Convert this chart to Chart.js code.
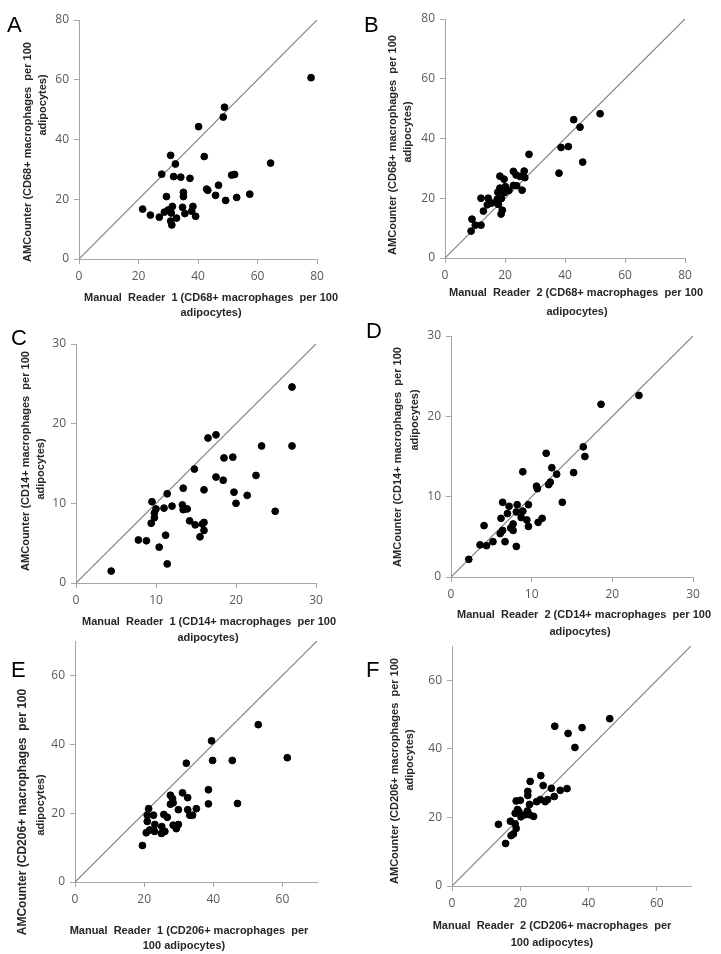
<!DOCTYPE html>
<html>
<head>
<meta charset="utf-8">
<script src="https://cdn.jsdelivr.net/npm/chart.js@4.4.1/dist/chart.umd.min.js"></script>
<style>
  html, body { margin: 0; padding: 0; background: #fff; }
  #page { position: relative; width: 721px; height: 954px; overflow: hidden; }
  #page canvas { position: absolute; left: 0; top: 0; }
</style>
</head>
<body>
<div id="page">
  <canvas id="chartA" width="721" height="954"></canvas>
  <canvas id="chartB" width="721" height="954"></canvas>
  <canvas id="chartC" width="721" height="954"></canvas>
  <canvas id="chartD" width="721" height="954"></canvas>
  <canvas id="chartE" width="721" height="954"></canvas>
  <canvas id="chartF" width="721" height="954"></canvas>
</div>
<script>
// CD68+ : reader 1 vs AMCounter
const cd68Reader1 = [78, 48.9, 48.5, 40.2, 30.8, 42.1, 32.4, 64.4, 27.8, 31.8, 34.2, 37.3, 51.3, 52.3, 46.9, 42.9, 43.3, 45.9, 49.3, 53, 57.4, 35.1, 35.1, 29.4, 21.4, 24, 27, 28.7, 30, 31.4, 31, 30.8, 31.2, 32.8, 34.8, 35.6, 38.3, 37.9, 39.2]
const cd68Counter1 = [60.7, 50.8, 47.5, 44.3, 34.7, 34.3, 31.8, 32.1, 28.4, 27.6, 27.4, 27, 28.1, 28.3, 24.7, 23.4, 23, 21.3, 19.6, 20.6, 21.7, 22.3, 20.9, 20.9, 16.7, 14.7, 14, 15.7, 16.4, 17.6, 15.4, 12.7, 11.4, 13.7, 17.3, 15.2, 17.6, 16, 14.3]

// CD68+ : reader 2 vs AMCounter
const cd68Reader2 = [51.7, 42.9, 45, 38.7, 41.1, 45.9, 38, 28, 22.8, 26.4, 23.7, 25, 25.9, 26.6, 18.3, 19.7, 22.8, 23.9, 25.7, 18.3, 20.1, 17.6, 19.8, 21.3, 17.4, 18.8, 17.8, 18.7, 19.1, 15.6, 14.1, 14.4, 12, 12.8, 12, 10.1, 9, 8.7]
const cd68Counter2 = [48.3, 46.3, 43.8, 37, 37.3, 32.1, 28.4, 34.7, 29, 29.1, 27.8, 27.3, 27.5, 26.9, 27.4, 26.4, 24.3, 24.2, 22.7, 23.4, 23.9, 22, 21.9, 22.6, 19.7, 19.9, 17.9, 14.7, 16, 18.4, 17.8, 20, 20, 15.7, 11, 11, 13, 9]

// CD14+ : reader 1 vs AMCounter
const cd14Reader1 = [27, 27, 23.2, 16.5, 17.5, 18.5, 19.6, 14.8, 17.5, 18.4, 22.5, 13.4, 16, 11.4, 19.75, 21.4, 20, 24.9, 9.5, 10, 9.8, 9.8, 9.4, 11, 12, 13.3, 13.4, 13.9, 14.2, 14.9, 15.8, 16, 16, 15.5, 11.2, 7.8, 8.8, 10.4, 11.4, 4.4]
const cd14Counter1 = [24.6, 17.2, 17.2, 18.2, 18.6, 15.7, 15.8, 14.3, 13.3, 12.9, 13.5, 11.9, 11.7, 11.2, 11.4, 11, 10, 9, 10.2, 9.3, 8.8, 8.2, 7.5, 9.4, 9.65, 9.8, 9.2, 9.3, 7.8, 7.3, 7.4, 7.6, 6.6, 5.8, 6, 5.4, 5.3, 4.5, 2.4, 1.5]

// CD14+ : reader 2 vs AMCounter
const cd14Reader2 = [23.3, 18.6, 16.4, 16.6, 11.8, 15.2, 12.5, 13.1, 12.3, 12.1, 10.6, 10.7, 8.9, 13.8, 6.4, 7.2, 8.2, 9.6, 7, 8.1, 8.9, 8.7, 9.4, 9.6, 10.8, 11.3, 6.2, 7.7, 7.4, 7.7, 6.4, 6.1, 4.1, 5.2, 6.7, 3.6, 4.4, 8.1, 2.2]
const cd14Counter2 = [22.6, 21.5, 16.2, 15, 15.4, 13, 13.6, 12.8, 11.8, 11.5, 11.3, 11, 13.1, 9.3, 9.3, 8.8, 9, 9, 7.9, 8.1, 8.2, 7.4, 7.1, 6.3, 6.8, 7.3, 7.3, 6.6, 6.1, 5.8, 5.8, 5.4, 6.4, 4.4, 4.4, 4, 3.9, 3.8, 2.2]

// CD206+ : reader 1 vs AMCounter
const cd206Reader1 = [53, 61.4, 39.5, 39.8, 45.5, 32.2, 38.6, 38.6, 47, 31.1, 27.6, 32.6, 28.2, 28.4, 27.6, 29.9, 32.6, 35.1, 33.2, 34, 25.7, 26.7, 21.3, 20.9, 22.7, 20.9, 23.1, 25.1, 28.4, 29.9, 29.3, 26, 25, 21.6, 23, 20.6, 19.5]
const cd206Counter1 = [45.7, 36.1, 41, 35.3, 35.3, 34.5, 26.8, 22.7, 22.8, 25.9, 25.2, 24.5, 24.2, 23, 22.6, 21, 21, 21.3, 19.4, 19.4, 19.6, 18.8, 21.3, 19.4, 19.4, 17.6, 16.7, 16.1, 16.5, 16.7, 15.5, 14.7, 14.1, 15.1, 14.7, 14.3, 10.6]

// CD206+ : reader 2 vs AMCounter
const cd206Reader2 = [46.2, 30.1, 34, 38.1, 36, 26, 22.9, 26.7, 29.1, 33.7, 31.7, 29.95, 22.2, 22.2, 25.9, 24.8, 28, 27.3, 22.7, 18.8, 20, 19.2, 22.1, 18.5, 20.2, 21.5, 22.7, 23.9, 19.6, 13.6, 17.1, 18.5, 18.8, 18, 17.3, 15.7]
const cd206Counter2 = [48.8, 46.6, 44.5, 46.2, 40.4, 32.2, 30.5, 29.3, 28.5, 28.4, 27.9, 26.1, 27.6, 26.4, 25.2, 24.6, 25.2, 24.6, 23.8, 24.8, 25, 22.3, 21.9, 21.2, 20.2, 20.8, 20.8, 20.3, 21.7, 18, 18.9, 18.1, 16.8, 15.2, 14.7, 12.4]

const CD68_MAX = 80, CD68_STEP = 20
const CD14_MAX = 30, CD14_STEP = 10
const CD206_MAX = 70, CD206_STEP = 20

const COLORS = {
  point: `#000000`,
  axis: `#a6a6a6`,
  diagonal: `#7f7f7f`,
  tick: `#595959`,
  title: `#262626`
}
const Y_AXIS_W = 40
const X_AXIS_H = 30

// letters and two-line axis titles, drawn in page coordinates
const panelText = {
  id: `panelText`,
  afterDraw(chart, args, opts) {
    const { ctx } = chart
    const titleFont = size => `bold ${size}px "Liberation Sans", Arial, sans-serif`
    ctx.save()
    ctx.fillStyle = `#000`
    ctx.font = `22px "Liberation Sans", Arial, sans-serif`
    ctx.textAlign = `left`
    ctx.textBaseline = `alphabetic`
    ctx.fillText(opts.letter, opts.letterAt[0], opts.letterAt[1])

    ctx.fillStyle = COLORS.title
    ctx.textAlign = `center`
    ctx.textBaseline = `middle`
    ctx.font = titleFont(11)
    opts.xTitle.forEach((line, i) => ctx.fillText(line, opts.xAt[i][0], opts.xAt[i][1]))
    opts.yTitle.forEach((line, i) => {
      ctx.save()
      ctx.font = titleFont(opts.ySizes ? opts.ySizes[i] : 11)
      ctx.translate(opts.yAt[i][0], opts.yAt[i][1])
      ctx.rotate(-Math.PI / 2)
      ctx.fillText(line, 0, 0)
      ctx.restore()
    })
    ctx.restore()
  }
}

const axisOpts = (max, step, isX) => ({
  type: `linear`,
  min: 0,
  max,
  border: { color: COLORS.axis, width: 1 },
  grid: { drawOnChartArea: false, drawTicks: true, tickLength: 5, color: COLORS.axis },
  ticks: {
    stepSize: step,
    includeBounds: false,
    color: COLORS.tick,
    padding: 5,
    font: { family: `"Open Sans", "Liberation Sans", sans-serif`, size: 12 }
  },
  afterFit: axis => {
    if (isX) axis.height = X_AXIS_H
    else axis.width = Y_AXIS_W
  }
})

const renderPanel = (id, xs, ys, max, step, area, text) => {
  const [left, top, right, bottom] = area
  const points = xs.map((x, i) => ({ x, y: ys[i] }))
  new Chart(document.getElementById(id), {
    type: `scatter`,
    data: {
      datasets: [{
        data: points,
        backgroundColor: COLORS.point,
        borderColor: COLORS.point,
        pointRadius: 3.4,
        pointHoverRadius: 3.4,
        order: 0
      }, {
        data: [{ x: 0, y: 0 }, { x: max, y: max }],
        showLine: true,
        borderColor: COLORS.diagonal,
        borderWidth: 1.2,
        pointRadius: 0,
        order: 1
      }]
    },
    options: {
      responsive: false,
      animation: false,
      events: [],
      layout: {
        autoPadding: false,
        padding: { left: left - Y_AXIS_W, top, right: 721 - right, bottom: 954 - bottom - X_AXIS_H }
      },
      plugins: {
        legend: { display: false },
        tooltip: { enabled: false },
        panelText: text
      },
      scales: {
        x: axisOpts(max, step, true),
        y: axisOpts(max, step, false)
      }
    },
    plugins: [panelText]
  })
}

renderPanel(`chartA`, cd68Reader1, cd68Counter1, CD68_MAX, CD68_STEP, [79, 20, 317, 259], {
  letter: `A`, letterAt: [7, 32],
  xTitle: [`Manual  Reader  1 (CD68+ macrophages  per 100`, `adipocytes)`], xAt: [[211, 298], [211, 313]],
  yTitle: [`AMCounter (CD68+ macrophages  per 100`, `adipocytes)`], yAt: [[28, 152], [43, 105]]
})
renderPanel(`chartB`, cd68Reader2, cd68Counter2, CD68_MAX, CD68_STEP, [445, 19, 685, 258], {
  letter: `B`, letterAt: [364, 32],
  xTitle: [`Manual  Reader  2 (CD68+ macrophages  per 100`, `adipocytes)`], xAt: [[576, 293], [577, 312]],
  yTitle: [`AMCounter (CD68+ macrophages  per 100`, `adipocytes)`], yAt: [[393, 145], [408, 132]]
})
renderPanel(`chartC`, cd14Reader1, cd14Counter1, CD14_MAX, CD14_STEP, [76, 344, 316, 583], {
  letter: `C`, letterAt: [11, 345],
  xTitle: [`Manual  Reader  1 (CD14+ macrophages  per 100`, `adipocytes)`], xAt: [[209, 622], [208, 638]],
  yTitle: [`AMCounter (CD14+ macrophages  per 100`, `adipocytes)`], yAt: [[26, 461], [41, 469]]
})
renderPanel(`chartD`, cd14Reader2, cd14Counter2, CD14_MAX, CD14_STEP, [451, 336, 693, 577], {
  letter: `D`, letterAt: [366, 338],
  xTitle: [`Manual  Reader  2 (CD14+ macrophages  per 100`, `adipocytes)`], xAt: [[584, 615], [580, 632]],
  yTitle: [`AMCounter (CD14+ macrophages  per 100`, `adipocytes)`], yAt: [[398, 457], [415, 420]]
})
renderPanel(`chartE`, cd206Reader1, cd206Counter1, CD206_MAX, CD206_STEP, [75, 641, 317, 882], {
  letter: `E`, letterAt: [11, 677],
  xTitle: [`Manual  Reader  1 (CD206+ macrophages  per`, `100 adipocytes)`], xAt: [[189, 931], [184, 946]],
  yTitle: [`AMCounter (CD206+ macrophages  per 100`, `adipocytes)`], yAt: [[23, 812], [41, 805]], ySizes: [12, 11]
})
renderPanel(`chartF`, cd206Reader2, cd206Counter2, CD206_MAX, CD206_STEP, [452, 646, 691, 886], {
  letter: `F`, letterAt: [366, 677],
  xTitle: [`Manual  Reader  2 (CD206+ macrophages  per`, `100 adipocytes)`], xAt: [[552, 926], [552, 943]],
  yTitle: [`AMCounter (CD206+ macrophages  per 100`, `adipocytes)`], yAt: [[395, 771], [410, 760]]
})
</script>
</body>
</html>
